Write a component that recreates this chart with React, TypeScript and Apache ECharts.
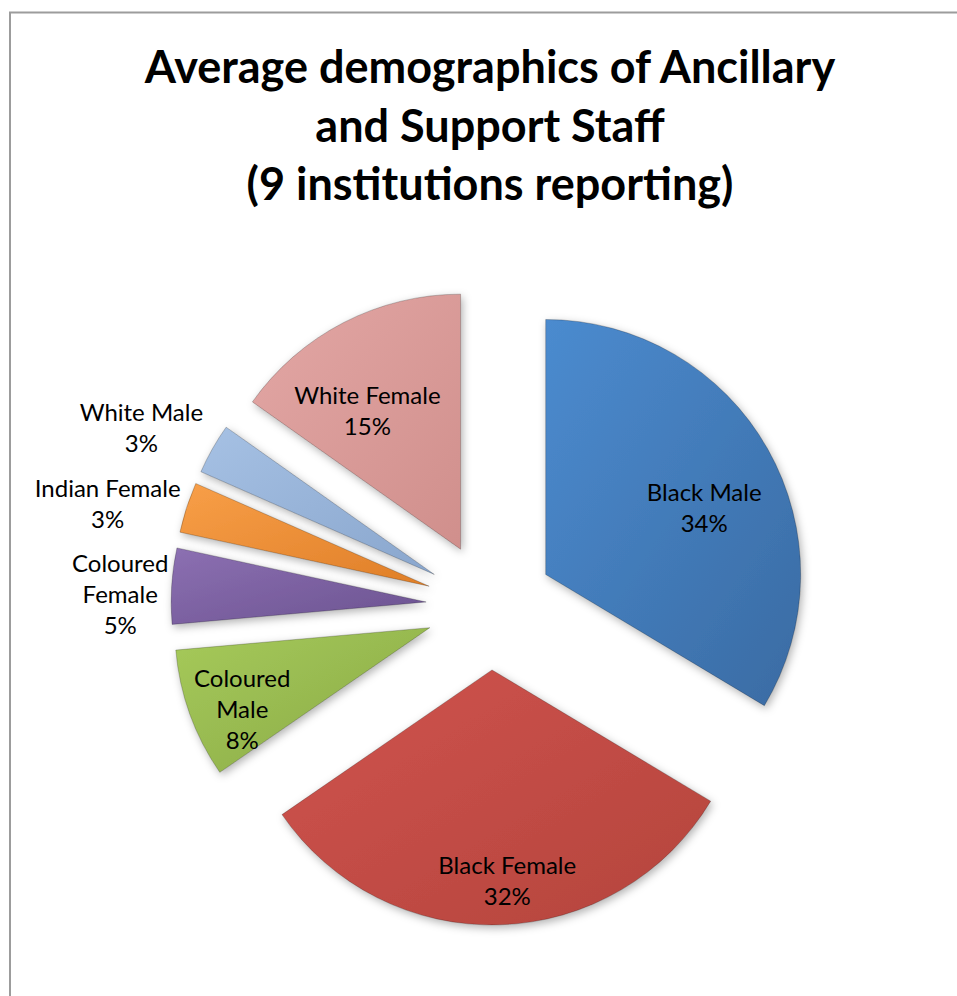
import React, { useEffect, useRef } from 'react';
import * as echarts from 'echarts';

// ---- data ----
const categories = ['Black Male', 'Black Female', 'Coloured Male', 'Coloured Female', 'Indian Female', 'White Male', 'White Female'];
const shares = [33.6, 31.8, 8.2, 4.8, 3.2, 3.2, 15.2];
const labelNames = ['Black Male', 'Black Female', 'Coloured\nMale', 'Coloured\nFemale', 'Indian Female', 'White Male', 'White Female'];
const titleLines = ['Average demographics of Ancillary', 'and Support Staff', '(9 institutions reporting)'];

// ---- styling ----
const CX = 490;
const CY = 606;
const RADIUS = 255;
const EXPLODE = 64;
const sliceColors: [string, string][] = [
  ['#4b8bcf', '#3a6ba3'],
  ['#d0544d', '#b4443d'],
  ['#a6ca5a', '#89a946'],
  ['#8c70b2', '#6b5290'],
  ['#f89f48', '#df7e27'],
  ['#a6c1e4', '#89a6cd'],
  ['#e3a7a5', '#d08f8c'],
];
const labelDist = [236, 275, 268, 370, 396, 392, 231];
const labelShift = [4.7, -1.8, -2.6, -1.6, -2.9, -2.3, -4.7];

const total = shares.reduce((a, b) => a + b, 0);
const midAngles: number[] = [];
{
  let acc = 0;
  for (const s of shares) {
    const span = (s / total) * 360;
    midAngles.push(acc + span / 2);
    acc += span;
  }
}

export default function App() {
  const ref = useRef<HTMLDivElement>(null);
  useEffect(() => {
    const chart = echarts.init(ref.current!, null, { renderer: 'svg' });
    const option: any = {
      animation: false,
      graphic: [
        { type: 'line', shape: { x1: 9, y1: 12.5, x2: 957, y2: 12.5 }, style: { stroke: '#9c9c9c', lineWidth: 2 } },
        { type: 'line', shape: { x1: 10, y1: 12, x2: 10, y2: 996 }, style: { stroke: '#9c9c9c', lineWidth: 2 } },
        {
          type: 'text',
          x: 490,
          y: 37,
          style: {
            text: titleLines.join('\n'),
            fill: '#000',
            font: 'bold 45px Lato',
            textAlign: 'center',
            textVerticalAlign: 'top',
            lineHeight: 58.5,
          },
        },
      ],
      series: [
        {
          type: 'pie',
          center: [CX, CY],
          radius: RADIUS,
          startAngle: 90,
          clockwise: true,
          selectedMode: 'multiple',
          selectedOffset: EXPLODE,
          emphasis: { disabled: true },
          itemStyle: {
            borderColor: 'rgba(0,0,0,0.22)',
            borderWidth: 1,
            shadowBlur: 8,
            shadowColor: 'rgba(0,0,0,0.3)',
            shadowOffsetX: 2,
            shadowOffsetY: 3,
          },
          select: {
            itemStyle: {
              borderColor: 'rgba(0,0,0,0.22)',
              borderWidth: 1,
            },
          },
          label: { show: false },
          labelLine: { show: false },
          data: categories.map((name, i) => ({
            name,
            value: shares[i],
            selected: true,
            itemStyle: {
              color: new echarts.graphic.LinearGradient(0, 0, 1, 1, [
                { offset: 0, color: sliceColors[i][0] },
                { offset: 1, color: sliceColors[i][1] },
              ]),
            },
          })),
        },
        {
          type: 'pie',
          center: [CX, CY],
          radius: RADIUS,
          startAngle: 90,
          clockwise: true,
          silent: true,
          selectedMode: false,
          percentPrecision: 0,
          avoidLabelOverlap: false,
          emphasis: { disabled: true },
          itemStyle: { color: 'rgba(0,0,0,0)', borderWidth: 0 },
          label: {
            show: true,
            position: 'inside',
            color: '#000',
            fontFamily: 'Lato',
            fontSize: 24,
            lineHeight: 31,
            align: 'center',
            formatter: (p: any) => `${labelNames[p.dataIndex]}\n${p.percent}%`,
          },
          labelLine: { show: false },
          labelLayout: (params: any) => {
            const i = params.dataIndex;
            const a = ((midAngles[i] + labelShift[i]) * Math.PI) / 180;
            return {
              x: CX + Math.sin(a) * labelDist[i],
              y: CY - Math.cos(a) * labelDist[i],
              align: 'center',
              verticalAlign: 'middle',
            };
          },
          data: categories.map((name, i) => ({ name, value: shares[i] })),
        },
      ],
    };
    chart.setOption(option);
    return () => chart.dispose();
  }, []);
  return <div ref={ref} style={{ position: 'absolute', left: 0, top: 0, width: 957, height: 996 }} />;
}
